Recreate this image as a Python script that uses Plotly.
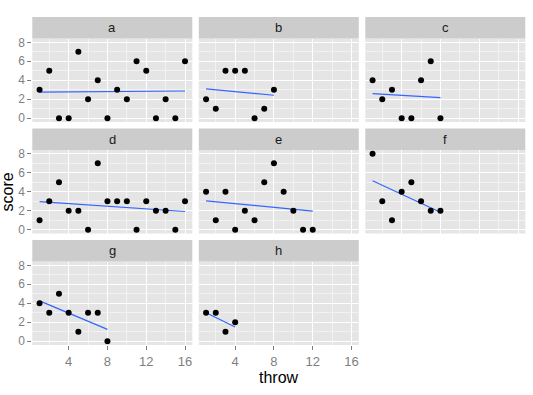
import numpy as np
import plotly.graph_objects as go

W, H = 533, 395

panels = ["a", "b", "c", "d", "e", "f", "g", "h"]
scores = {
    "a": [3, 5, 0, 0, 7, 2, 4, 0, 3, 2, 6, 5, 0, 2, 0, 6],
    "b": [2, 1, 5, 5, 5, 0, 1, 3],
    "c": [4, 2, 3, 0, 0, 4, 6, 0],
    "d": [1, 3, 5, 2, 2, 0, 7, 3, 3, 3, 0, 3, 2, 2, 0, 3],
    "e": [4, 1, 4, 0, 2, 1, 5, 7, 4, 2, 0, 0],
    "f": [8, 3, 1, 4, 5, 3, 2, 2],
    "g": [4, 3, 5, 3, 1, 3, 3, 0],
    "h": [3, 3, 1, 2],
}
x_ticks = [4, 8, 12, 16]
x_minor = [2, 6, 10, 14]
y_ticks = [0, 2, 4, 6, 8]
y_minor = [1, 3, 5, 7]

FONT = "Liberation Sans"

col_left = [32.3, 198.8, 365.3]
pw = 160.0
row_strip_top = [17.0, 128.5, 240.0]
strip_h = 21.5
ph = 83.5

fig = go.Figure()
layout = {}
shapes = []
annotations = []

for i, p in enumerate(panels):
    r, c = divmod(i, 3)
    k = i + 1
    xs = "" if k == 1 else str(k)
    y = scores[p]
    x = list(range(1, len(y) + 1))
    x0, x1 = col_left[c], col_left[c] + pw
    st = row_strip_top[r]
    pt = st + strip_h
    pb = pt + ph
    xdom = [x0 / W, x1 / W]
    ydom = [1 - pb / H, 1 - pt / H]

    # regression line
    slope, icpt = np.polyfit(x, y, 1)
    lx = np.array([min(x), max(x)])
    fig.add_trace(go.Scatter(x=lx, y=icpt + slope * lx, mode="lines",
                             line=dict(color="#3366FF", width=1.2),
                             xaxis="x" + xs, yaxis="y" + xs, showlegend=False,
                             hoverinfo="skip"))
    fig.add_trace(go.Scatter(x=x, y=y, mode="markers",
                             marker=dict(color="black", size=6),
                             xaxis="x" + xs, yaxis="y" + xs, showlegend=False))

    show_x = p in ("g", "h")
    show_y = c == 0
    layout["xaxis" + xs] = dict(
        domain=xdom, anchor="y" + xs, range=[0.25, 16.75], automargin=False,
        tickvals=x_ticks, showticklabels=show_x,
        ticks="outside" if show_x else "", ticklen=4, tickcolor="#7F7F7F",
        tickfont=dict(family=FONT, size=13, color="#7F7F7F"),
        showgrid=True, gridcolor="white", gridwidth=1.4, zeroline=False,
        showline=False,
        minor=dict(tickvals=x_minor, showgrid=True, gridcolor="#F2F2F2",
                   gridwidth=0.8, ticks=""),
    )
    layout["yaxis" + xs] = dict(
        domain=ydom, anchor="x" + xs, range=[-0.4, 8.4], automargin=False,
        tickvals=y_ticks, showticklabels=show_y,
        ticks="outside" if show_y else "", ticklen=4, tickcolor="#7F7F7F",
        tickfont=dict(family=FONT, size=12, color="#7F7F7F"),
        showgrid=True, gridcolor="white", gridwidth=1.4, zeroline=False,
        showline=False,
        minor=dict(tickvals=y_minor, showgrid=True, gridcolor="#F2F2F2",
                   gridwidth=0.8, ticks=""),
    )
    shapes.append(dict(type="rect", xref="paper", yref="paper",
                       x0=x0 / W, x1=x1 / W, y0=1 - pt / H, y1=1 - st / H,
                       fillcolor="#CCCCCC", line=dict(width=0), layer="below"))
    annotations.append(dict(text=p, xref="paper", yref="paper",
                            x=(x0 + x1) / 2 / W, y=1 - (st + strip_h / 2) / H,
                            xanchor="center", yanchor="middle", showarrow=False,
                            font=dict(family=FONT, size=13, color="#1A1A1A")))

annotations.append(dict(text="score", xref="paper", yref="paper",
                        x=7.5 / W, y=1 - 192 / H, textangle=-90,
                        xanchor="center", yanchor="middle", showarrow=False,
                        font=dict(family=FONT, size=16, color="black")))
annotations.append(dict(text="throw", xref="paper", yref="paper",
                        x=278.5 / W, y=1 - 377 / H,
                        xanchor="center", yanchor="middle", showarrow=False,
                        font=dict(family=FONT, size=16, color="black")))

fig.update_layout(
    width=W, height=H, margin=dict(l=0, r=0, t=0, b=0, autoexpand=False),
    paper_bgcolor="white", plot_bgcolor="#E5E5E5",
    shapes=shapes, annotations=annotations, showlegend=False,
    **layout,
)

fig.write_html("out.html",
               config={"displayModeBar": False},
               post_script="document.body.style.margin='0';"
                           "document.body.style.overflow='hidden';")
